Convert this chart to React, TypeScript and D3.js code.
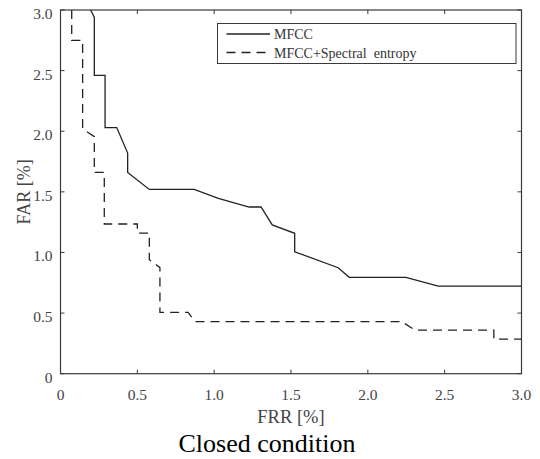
import React from "react";
import * as d3 from "d3";

// FRR [%] / FAR [%] points
const mfccFRR = [0.196, 0.22, 0.22, 0.29, 0.29, 0.366, 0.437, 0.437, 0.578, 0.87, 1.027, 1.228, 1.305, 1.378, 1.524, 1.524, 1.807, 1.879, 2.248, 2.458, 3.0];
const mfccFAR = [3.0, 2.94, 2.46, 2.46, 2.03, 2.03, 1.82, 1.66, 1.52, 1.52, 1.447, 1.375, 1.375, 1.227, 1.158, 1.006, 0.874, 0.795, 0.795, 0.723, 0.723];

const entFRR = [0.073, 0.073, 0.144, 0.144, 0.22, 0.22, 0.285, 0.285, 0.5, 0.5, 0.578, 0.578, 0.647, 0.647, 0.83, 0.875, 2.22, 2.307, 2.82, 2.82, 3.0];
const entFAR = [3.0, 2.75, 2.75, 2.02, 1.955, 1.66, 1.66, 1.235, 1.235, 1.16, 1.16, 0.94, 0.875, 0.506, 0.506, 0.43, 0.43, 0.36, 0.36, 0.286, 0.286];

const ticks = [0, 0.5, 1.0, 1.5, 2.0, 2.5, 3.0];
const tickLabels = ["0", "0.5", "1.0", "1.5", "2.0", "2.5", "3.0"];
const seriesNames = ["MFCC", "MFCC+Spectral\u00a0\u00a0entropy"];

const w = 540;
const h = 459;
const left = 60.5;
const right = 521.5;
const top = 10;
const bottom = 373.7;
const font = "Liberation Serif";
const axisColor = "#3a3a3a";
const lineColor = "#222";
const dash = "9,6";

const x = d3.scaleLinear().domain([0, 3]).range([left, right]);
const y = d3.scaleLinear().domain([0, 3]).range([bottom, top]);

const line = d3
  .line<[number, number]>()
  .x((d) => x(d[0]))
  .y((d) => y(d[1]));

const mfcc = mfccFRR.map((v, i) => [v, mfccFAR[i]] as [number, number]);
const ent = entFRR.map((v, i) => [v, entFAR[i]] as [number, number]);

const App = () => {
  const tick = 4;
  return (
    <div>
      <svg
        width={w}
        height={h}
        style={{ position: "absolute", left: 0, top: 0, background: "#fff", fontFamily: font }}
      >
        {/* frame */}
        <rect
          x={left}
          y={top}
          width={right - left}
          height={bottom - top}
          fill="none"
          stroke={axisColor}
          strokeWidth={1.2}
        />

        {/* inward ticks on all four sides */}
        {ticks.map((t, i) => (
          <g key={"x" + i} stroke={axisColor} strokeWidth={1}>
            <line x1={x(t)} x2={x(t)} y1={bottom} y2={bottom - tick} />
            <line x1={x(t)} x2={x(t)} y1={top} y2={top + tick} />
          </g>
        ))}
        {ticks.map((t, i) => (
          <g key={"y" + i} stroke={axisColor} strokeWidth={1}>
            <line x1={left} x2={left + tick} y1={y(t)} y2={y(t)} />
            <line x1={right} x2={right - tick} y1={y(t)} y2={y(t)} />
          </g>
        ))}

        {/* tick labels */}
        {ticks.map((t, i) => (
          <text
            key={"xl" + i}
            x={x(t)}
            y={399.5}
            textAnchor="middle"
            fontSize={15.5}
            fill="#444"
            style={{ fontFamily: font }}
          >
            {tickLabels[i]}
          </text>
        ))}
        {ticks.map((t, i) => (
          <text
            key={"yl" + i}
            x={52.5}
            y={y(t) + 9}
            textAnchor="end"
            fontSize={15.5}
            fill="#444"
            style={{ fontFamily: font }}
          >
            {tickLabels[i]}
          </text>
        ))}

        {/* series */}
        <path d={line(mfcc) ?? ""} fill="none" stroke={lineColor} strokeWidth={1.3} />
        <path d={line(ent) ?? ""} fill="none" stroke={lineColor} strokeWidth={1.3} strokeDasharray={dash} />

        {/* legend */}
        <rect x={217.5} y={23.5} width={298.5} height={40} fill="#fff" stroke={axisColor} strokeWidth={1} />
        {seriesNames.map((name, i) => {
          const ly = 34 + i * 18.5;
          return (
            <g key={name}>
              <line
                x1={226.5}
                x2={270}
                y1={ly}
                y2={ly}
                stroke={lineColor}
                strokeWidth={1.3}
                strokeDasharray={i === 1 ? dash : undefined}
              />
              <text x={274} y={ly + 5} fontSize={14} fill="#333" style={{ fontFamily: font }}>
                {name}
              </text>
            </g>
          );
        })}

        {/* axis titles */}
        <text
          x={(left + right) / 2}
          y={423}
          textAnchor="middle"
          fontSize={18.5}
          fill="#444"
          style={{ fontFamily: font }}
        >
          FRR [%]
        </text>
        <text
          transform={`translate(30,${(top + bottom) / 2}) rotate(-90)`}
          textAnchor="middle"
          fontSize={18}
          fill="#444"
          style={{ fontFamily: font }}
        >
          FAR [%]
        </text>

        <text x={267} y={452} textAnchor="middle" fontSize={26} fill="#000" style={{ fontFamily: font }}>
          Closed condition
        </text>
      </svg>
    </div>
  );
};

export default App;
